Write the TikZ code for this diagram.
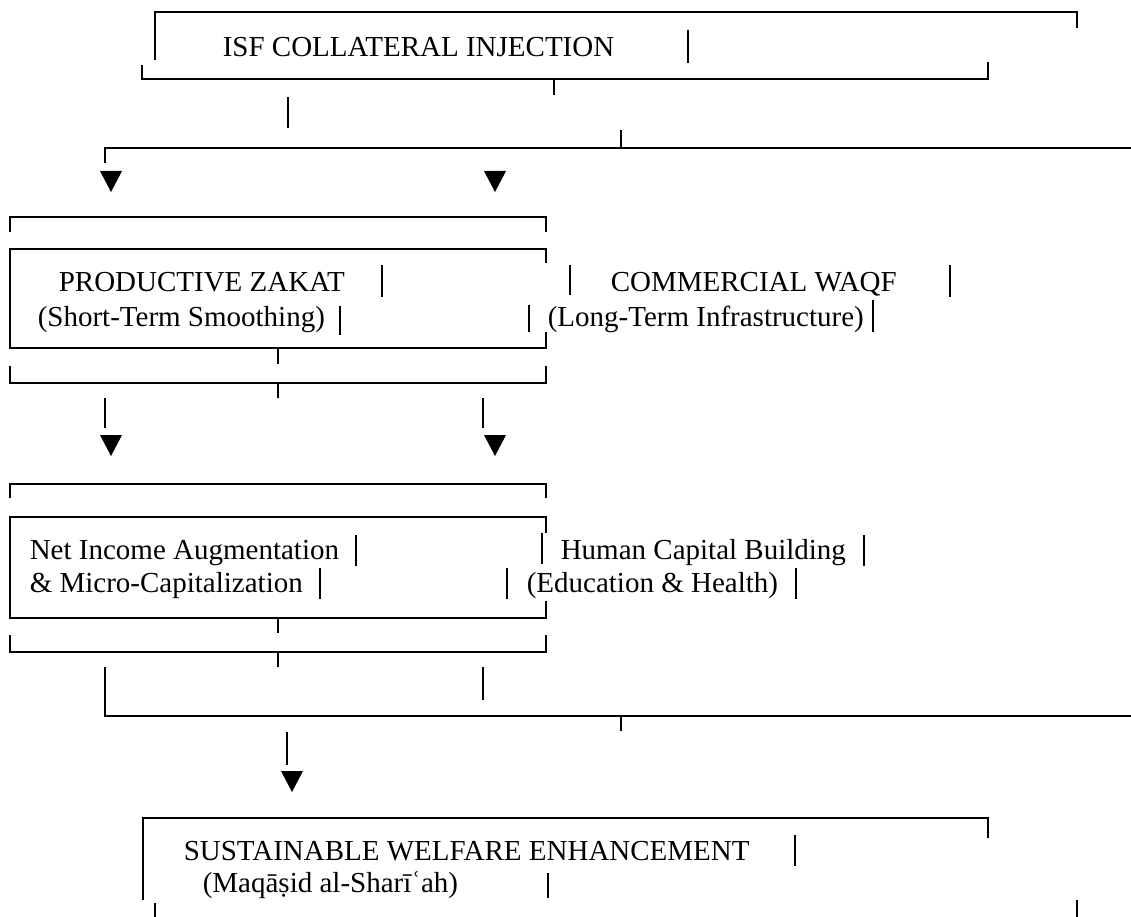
\documentclass[tikz,border=0pt]{standalone}
\usepackage{fontspec}
\setmainfont{Liberation Serif}

\begin{document}
\begin{tikzpicture}[x=1pt,y=-1pt,line width=1.6pt,
    lbl/.style={anchor=base west,inner sep=0pt,font=\fontsize{29}{31}\selectfont},
    tridown/.pic={\fill (-11,-10) -- (11,-10) -- (0,11) -- cycle;}]
  \useasboundingbox (0,0) rectangle (1131,917);
  % top block
  \node[lbl] (isf) at (222,57) {ISF COLLATERAL INJECTION};
  \draw (155,60) -- (155,12) -- (1077,12) -- (1077,28);
  \draw (688,30) -- (688,63);
  \draw (142,65) -- (142,79) -- (988,79) -- (988,62);
  \draw (554,79) -- (554,95);
  \draw (288,97) -- (288,128);
  \draw (621,130) -- (621,148);
  \draw (105,163) -- (105,148) -- (1131,148);
  \pic at (111,181) {tridown};
  \pic at (495,181) {tridown};
  % zakat / waqf
  \draw (10,232) -- (10,217) -- (546,217) -- (546,232);
  \draw (546,263) -- (546,249) -- (10,249) -- (10,348) -- (546,348) -- (546,332);
  \node[lbl] (zakat) at (58,291) {PRODUCTIVE ZAKAT};
  \node[lbl] (zakatsub) at (37,326) {(Short-Term Smoothing)};
  \node[lbl] (waqf) at (610,291) {COMMERCIAL WAQF};
  \node[lbl] (waqfsub) at (547,326) {(Long-Term Infrastructure)};
  \draw (382,265) -- (382,297);
  \draw (340,306) -- (340,335);
  \draw (529,305) -- (529,332);
  \draw (570,265) -- (570,295);
  \draw (950,265) -- (950,297);
  \draw (873,300) -- (873,332);
  \draw (278,348) -- (278,364);
  \draw (10,366) -- (10,383) -- (546,383) -- (546,366);
  \draw (278,383) -- (278,398);
  \draw (105,398) -- (105,428);
  \draw (483,398) -- (483,428);
  \pic at (111,445) {tridown};
  \pic at (495,445) {tridown};
  % outcomes
  \draw (10,498) -- (10,484) -- (546,484) -- (546,498);
  \draw (546,533) -- (546,517) -- (10,517) -- (10,618) -- (546,618) -- (546,601);
  \node[lbl] (income) at (29,559) {Net Income Augmentation};
  \node[lbl] (incomesub) at (29,592) {\& Micro-Capitalization};
  \node[lbl] (human) at (560,559) {Human Capital Building};
  \node[lbl] (humansub) at (526,592) {(Education \& Health)};
  \draw (356,535) -- (356,566);
  \draw (320,568) -- (320,599);
  \draw (507,568) -- (507,599);
  \draw (542,533) -- (542,564);
  \draw (864,535) -- (864,566);
  \draw (796,568) -- (796,599);
  \draw (278,618) -- (278,633);
  \draw (10,635) -- (10,652) -- (546,652) -- (546,635);
  \draw (278,652) -- (278,667);
  \draw (105,667) -- (105,716) -- (1131,716);
  \draw (483,667) -- (483,700);
  \draw (621,716) -- (621,731);
  \draw (287,732) -- (287,765);
  \pic at (292,781) {tridown};
  % welfare
  \draw (143,900) -- (143,818) -- (988,818) -- (988,838);
  \node[lbl] (welfare) at (183,860) {SUSTAINABLE WELFARE ENHANCEMENT};
  \node[lbl] (maqasid) at (202,892) {(Maqāṣid al-Sharīʿah)};
  \draw (795,835) -- (795,866);
  \draw (548,873) -- (548,898);
  \draw (155,903) -- (155,917);
  \draw (1077,900) -- (1077,917);
\end{tikzpicture}
\end{document}
